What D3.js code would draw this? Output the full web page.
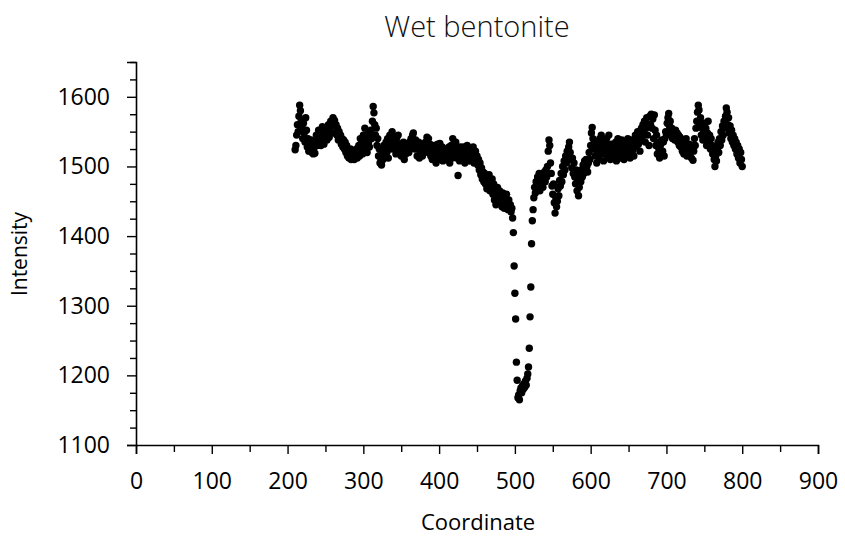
<!DOCTYPE html>
<html>
<head>
<meta charset="utf-8">
<script src="https://cdn.jsdelivr.net/npm/d3@7"></script>
<style>
  html, body { margin: 0; padding: 0; background: #fff; }
  svg { display: block; font-family: "Open Sans", "Lato", sans-serif; }
</style>
</head>
<body>
<svg id="chart" width="845" height="540"></svg>
<script>
// Sampling positions along the profile (one reading per coordinate unit)
const coordinate = d3.range(210, 801);

// Measured intensity at each coordinate, 10 readings per row
const intensity = [
  /* 210 */ 1524,1530,1545,1560,1550,1572,1588,1580,1565,1555,
  /* 220 */ 1540,1562,1548,1535,1570,1552,1528,1540,1522,1533,
  /* 230 */ 1525,1538,1520,1530,1518,1527,1519,1535,1545,1530,
  /* 240 */ 1540,1552,1535,1548,1530,1545,1557,1540,1532,1550,
  /* 250 */ 1545,1555,1538,1550,1560,1542,1556,1565,1548,1562,
  /* 260 */ 1570,1558,1566,1548,1560,1545,1555,1538,1550,1540,
  /* 270 */ 1545,1532,1540,1528,1538,1525,1535,1520,1530,1515,
  /* 280 */ 1522,1512,1518,1525,1510,1516,1512,1522,1510,1518,
  /* 290 */ 1513,1525,1512,1520,1530,1515,1540,1522,1535,1518,
  /* 300 */ 1545,1525,1555,1530,1540,1520,1548,1535,1528,1545,
  /* 310 */ 1552,1540,1565,1586,1577,1560,1545,1555,1530,1540,
  /* 320 */ 1515,1525,1505,1512,1502,1520,1510,1530,1518,1525,
  /* 330 */ 1535,1520,1540,1512,1530,1545,1525,1538,1550,1530,
  /* 340 */ 1542,1525,1535,1518,1540,1528,1545,1520,1532,1525,
  /* 350 */ 1515,1530,1520,1535,1510,1525,1518,1532,1522,1528,
  /* 360 */ 1520,1535,1525,1540,1530,1545,1548,1535,1525,1538,
  /* 370 */ 1530,1515,1525,1535,1512,1528,1520,1532,1515,1525,
  /* 380 */ 1530,1520,1535,1525,1542,1530,1540,1520,1532,1515,
  /* 390 */ 1528,1510,1522,1530,1512,1525,1505,1520,1532,1515,
  /* 400 */ 1525,1533,1510,1520,1528,1508,1518,1525,1512,1520,
  /* 410 */ 1510,1522,1515,1528,1505,1520,1530,1512,1540,1525,
  /* 420 */ 1530,1518,1535,1512,1525,1487,1520,1508,1528,1515,
  /* 430 */ 1522,1510,1528,1518,1505,1525,1512,1530,1508,1520,
  /* 440 */ 1515,1525,1508,1520,1512,1528,1505,1518,1522,1510,
  /* 450 */ 1515,1502,1510,1495,1505,1488,1498,1482,1492,1478,
  /* 460 */ 1490,1475,1485,1468,1480,1472,1488,1465,1478,1470,
  /* 470 */ 1482,1460,1475,1452,1468,1445,1462,1470,1450,1458,
  /* 480 */ 1465,1448,1458,1442,1462,1450,1440,1455,1445,1460,
  /* 490 */ 1448,1438,1452,1440,1445,1435,1440,1426,1405,1357,
  /* 500 */ 1318,1281,1219,1193,1168,1172,1165,1178,1182,1175,
  /* 510 */ 1185,1180,1188,1183,1192,1186,1196,1202,1212,1239,
  /* 520 */ 1284,1327,1389,1422,1438,1455,1470,1462,1478,1468,
  /* 530 */ 1485,1472,1490,1465,1480,1475,1488,1470,1482,1492,
  /* 540 */ 1478,1495,1485,1500,1522,1538,1530,1505,1490,1472,
  /* 550 */ 1460,1475,1448,1433,1455,1442,1450,1468,1458,1480,
  /* 560 */ 1472,1490,1478,1500,1488,1508,1495,1515,1505,1522,
  /* 570 */ 1512,1528,1535,1520,1510,1498,1512,1490,1505,1485,
  /* 580 */ 1475,1495,1465,1480,1458,1470,1488,1478,1495,1485,
  /* 590 */ 1502,1490,1508,1496,1510,1500,1492,1505,1520,1510,
  /* 600 */ 1530,1548,1556,1540,1525,1535,1515,1530,1505,1522,
  /* 610 */ 1535,1512,1540,1525,1545,1518,1530,1508,1522,1535,
  /* 620 */ 1528,1540,1515,1530,1545,1520,1510,1532,1518,1525,
  /* 630 */ 1512,1528,1520,1535,1508,1525,1540,1518,1530,1512,
  /* 640 */ 1525,1538,1515,1528,1510,1522,1535,1518,1530,1540,
  /* 650 */ 1520,1532,1512,1528,1538,1522,1530,1515,1535,1545,
  /* 660 */ 1528,1540,1550,1532,1545,1522,1538,1555,1542,1560,
  /* 670 */ 1548,1565,1535,1555,1570,1545,1560,1530,1572,1560,
  /* 680 */ 1575,1555,1568,1540,1574,1552,1530,1545,1518,1535,
  /* 690 */ 1525,1512,1530,1518,1538,1522,1535,1515,1540,1550,
  /* 700 */ 1545,1562,1570,1576,1558,1565,1548,1555,1540,1550,
  /* 710 */ 1545,1538,1552,1540,1548,1535,1545,1530,1542,1528,
  /* 720 */ 1538,1522,1535,1518,1530,1525,1540,1515,1528,1520,
  /* 730 */ 1532,1518,1525,1512,1530,1509,1522,1540,1530,1555,
  /* 740 */ 1565,1578,1588,1581,1560,1570,1545,1555,1538,1550,
  /* 750 */ 1562,1540,1555,1530,1548,1565,1535,1545,1525,1540,
  /* 760 */ 1530,1518,1528,1510,1500,1515,1508,1525,1535,1520,
  /* 770 */ 1540,1530,1550,1538,1558,1545,1565,1555,1572,1584,
  /* 780 */ 1578,1560,1570,1548,1558,1540,1552,1535,1545,1530,
  /* 790 */ 1540,1525,1535,1518,1530,1512,1525,1505,1520,1510,
  /* 800 */ 1500
];

const xMajorTicks = [0, 100, 200, 300, 400, 500, 600, 700, 800, 900];
const xMinorTicks = [50, 150, 250, 350, 450, 550, 650, 750, 850];
const yMajorTicks = [1100, 1200, 1300, 1400, 1500, 1600];
const yMinorTicks = [1125, 1150, 1175, 1225, 1250, 1275, 1325, 1350, 1375,
                     1425, 1450, 1475, 1525, 1550, 1575, 1625, 1650];

const chartTitle = "Wet bentonite";
const xTitle = "Coordinate";
const yTitle = "Intensity";

const points = coordinate.map((c, i) => ({ x: c, y: intensity[i] }));

const svg = d3.select("#chart");
const margin = { left: 136, right: 27, top: 62, bottom: 95 };
const W = 845, H = 540;

const x = d3.scaleLinear().domain([0, 900]).range([margin.left, W - margin.right]);
const y = d3.scaleLinear().domain([1100, 1650]).range([H - margin.bottom, margin.top]);

const axisColor = "#000";
const textColor = "#000";

// Points
svg.append("g")
  .selectAll("circle")
  .data(points)
  .join("circle")
  .attr("cx", d => x(d.x))
  .attr("cy", d => y(d.y))
  .attr("r", 3.7)
  .attr("fill", "#000");

// X axis: major ticks with labels, minor ticks without
const gx = svg.append("g").attr("transform", `translate(0,${y(1100)})`);
gx.call(d3.axisBottom(x).tickValues(xMajorTicks).tickSize(9).tickPadding(19).tickFormat(d3.format("d")));
gx.append("g").call(d3.axisBottom(x).tickValues(xMinorTicks).tickSize(7).tickFormat(""))
  .select(".domain").remove();

// Y axis
const gy = svg.append("g").attr("transform", `translate(${x(0)},0)`);
gy.call(d3.axisLeft(y).tickValues(yMajorTicks).tickSize(9).tickPadding(17).tickFormat(d3.format("d")));
gy.append("g").call(d3.axisLeft(y).tickValues(yMinorTicks).tickSize(6).tickFormat(""))
  .select(".domain").remove();

svg.selectAll(".domain").attr("stroke", axisColor).attr("stroke-width", 1.6);
svg.selectAll(".tick line").attr("stroke", axisColor).attr("stroke-width", 1.4);
svg.selectAll(".tick text")
  .attr("fill", textColor)
  .style("font-family", "'Open Sans', 'Lato', sans-serif")
  .style("font-size", "23px");

// Titles
svg.append("text")
  .attr("x", 477).attr("y", 37)
  .attr("text-anchor", "middle")
  .style("font-size", "29px")
  .style("font-weight", 300)
  .attr("fill", "#111")
  .text(chartTitle);

svg.append("text")
  .attr("x", 478).attr("y", 530)
  .attr("text-anchor", "middle")
  .style("font-size", "22px")
  .attr("fill", textColor)
  .text(xTitle);

svg.append("text")
  .attr("transform", `translate(27,254) rotate(-90)`)
  .attr("text-anchor", "middle")
  .style("font-size", "21px")
  .attr("fill", textColor)
  .text(yTitle);
</script>
</body>
</html>
